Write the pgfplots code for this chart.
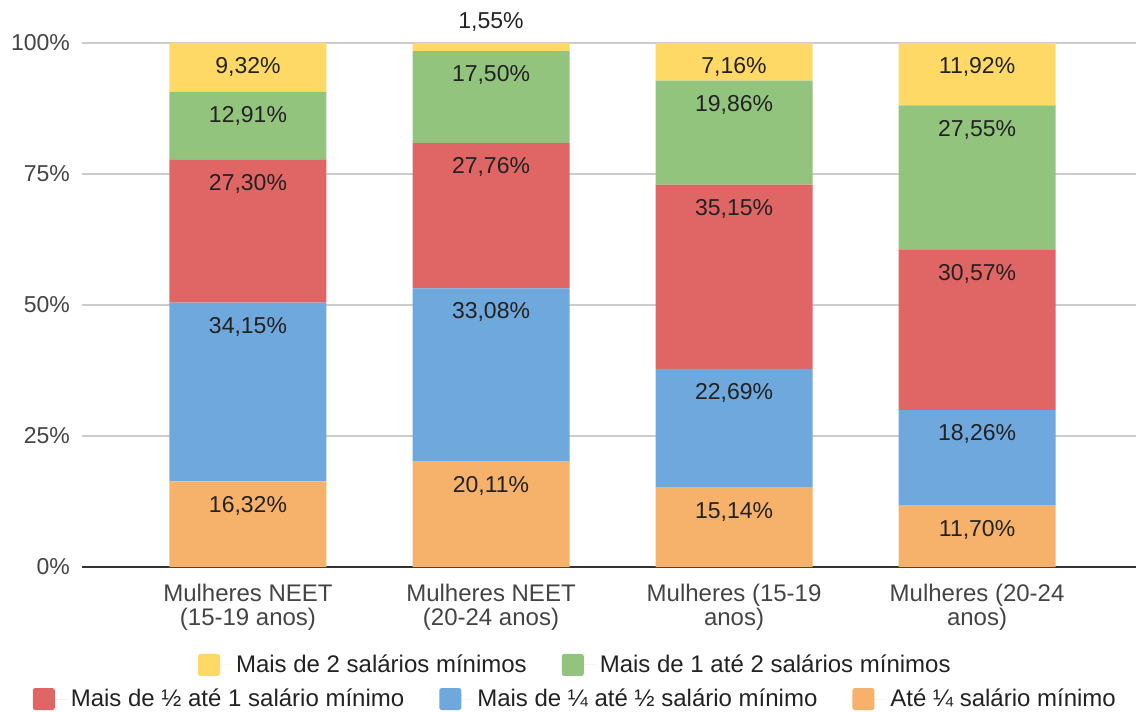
\documentclass[border=0pt]{standalone}
\usepackage{fontspec}
\setmainfont{Liberation Sans}
\usepackage{pgfplots}
\pgfplotsset{compat=1.18}

\definecolor{cOrange}{HTML}{F6B26B}
\definecolor{cBlue}{HTML}{6FA8DC}
\definecolor{cRed}{HTML}{E06666}
\definecolor{cGreen}{HTML}{93C47D}
\definecolor{cYellow}{HTML}{FFD966}
\definecolor{cGrid}{HTML}{CCCCCC}
\definecolor{cAxis}{HTML}{333333}
\definecolor{cTick}{HTML}{444444}
\definecolor{cLab}{HTML}{222222}

\pgfplotsset{
  layers/barsbelowaxis/.define layer set={axis background,axis grid,main,axis ticks,axis lines,axis tick labels,axis descriptions,axis foreground}{},
  legrow/.style={
    at={(ax.south west)}, anchor=south west,
    scale only axis, width=527pt, height=262pt,
    hide axis, xmin=0, xmax=1, ymin=0, ymax=1,
    legend columns=-1,
    legend image code/.code={\fill[##1,rounded corners=1.2pt] (0pt,-5.5pt) rectangle (11pt,5.5pt); \path (0pt,0pt) -- (17pt,0pt);},
    legend style={at={(0.469,#1)}, anchor=center, draw=none, fill=none,
      font=\fontsize{12}{13}\selectfont, text=cLab,
      /tikz/every even column/.append style={column sep=15.5pt}},
  },
}

\begin{document}
\begin{tikzpicture}
\begin{axis}[
  name=ax,
  set layers=barsbelowaxis,
  scale only axis, width=527pt, height=262pt,
  ybar stacked, bar width=78.5pt,
  xmin=-0.683, xmax=3.654, ymin=0, ymax=100,
  xtick={0,1,2,3},
  xticklabels={Mulheres NEET\\(15-19 anos), Mulheres NEET\\(20-24 anos), Mulheres (15-19\\anos), Mulheres (20-24\\anos)},
  ytick={0,25,50,75,100},
  yticklabels={0\%,25\%,50\%,75\%,100\%},
  major tick length=0pt,
  ymajorgrids, grid style={color=cGrid, line width=0.7pt},
  axis x line*=bottom, axis y line*=left,
  y axis line style={draw=none},
  x axis line style={draw=cAxis, line width=1pt},
  xticklabel style={align=center, font=\fontsize{12}{12}\selectfont, text=cTick, yshift=-5pt},
  yticklabel style={font=\fontsize{11.5}{13}\selectfont, text=cTick, xshift=-2.5pt},
  visualization depends on=rawy \as \rawy,
  nodes near coords={\pgfmathprintnumber[fixed,fixed zerofill,precision=2,use comma,assume math mode=true]{\rawy}\%},
  nodes near coords style={anchor=center,
    yshift={(\rawy<3) ? (\rawy*1.31+10.5) : (\rawy*1.31-12)},
    font=\fontsize{11.5}{13}\selectfont, text=cLab},
]
\addplot[fill=cOrange, draw=none] coordinates {(0,16.32) (1,20.11) (2,15.14) (3,11.70)};
\addplot[fill=cBlue, draw=none] coordinates {(0,34.15) (1,33.08) (2,22.69) (3,18.26)};
\addplot[fill=cRed, draw=none] coordinates {(0,27.30) (1,27.76) (2,35.15) (3,30.57)};
\addplot[fill=cGreen, draw=none] coordinates {(0,12.91) (1,17.50) (2,19.86) (3,27.55)};
\addplot[fill=cYellow, draw=none] coordinates {(0,9.32) (1,1.55) (2,7.16) (3,11.92)};
\end{axis}
% legend, first row
\begin{axis}[legrow=-0.187]
\addlegendimage{fill=cYellow, draw=none}
\addlegendentry{Mais de 2 salários mínimos}
\addlegendimage{fill=cGreen, draw=none}
\addlegendentry{Mais de 1 até 2 salários mínimos}
\end{axis}
% legend, second row
\begin{axis}[legrow=-0.252]
\addlegendimage{fill=cRed, draw=none}
\addlegendentry{Mais de ½ até 1 salário mínimo}
\addlegendimage{fill=cBlue, draw=none}
\addlegendentry{Mais de ¼ até ½ salário mínimo}
\addlegendimage{fill=cOrange, draw=none}
\addlegendentry{Até ¼ salário mínimo}
\end{axis}
\pgfresetboundingbox
\path[use as bounding box] ([xshift=-41pt,yshift=-72pt]ax.south west) rectangle ([yshift=21.5pt]ax.north east);
\end{tikzpicture}
\end{document}
